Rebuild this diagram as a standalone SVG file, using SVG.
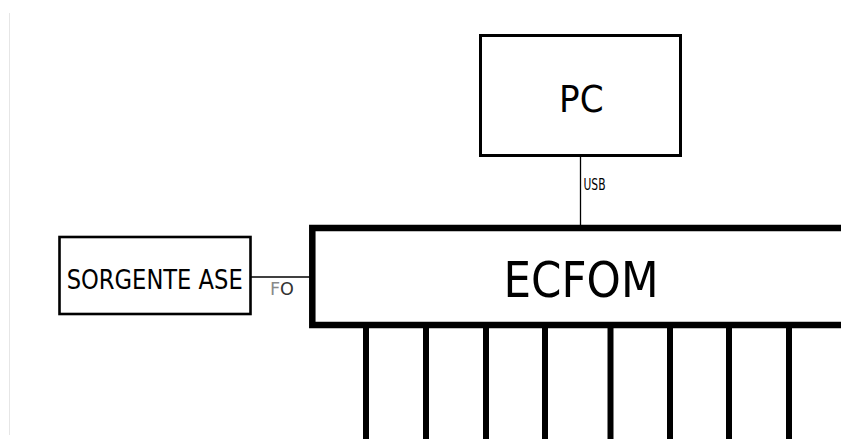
<svg xmlns="http://www.w3.org/2000/svg" width="841" height="439" viewBox="0 0 841 439">
<style>
.box{fill:#fff;stroke:#000}
.lbl{font-family:"DejaVu Sans Condensed","DejaVu Sans",sans-serif;fill:#000}
.wire{stroke:#000;stroke-width:1.3;fill:none}
.bus{stroke:#000;stroke-width:6;fill:none}
</style>
<rect width="841" height="439" fill="#fff"/>
<line x1="9.5" y1="13" x2="9.5" y2="435" stroke="#e6e6e6" stroke-width="1"/>
<g id="connectors">
<line class="wire" x1="580.5" y1="156" x2="580.5" y2="228"/>
<line class="wire" x1="251" y1="277" x2="312" y2="277"/>
<g>
<line class="bus" x1="366" y1="325" x2="366" y2="439"/>
<line class="bus" x1="426" y1="325" x2="426" y2="439"/>
<line class="bus" x1="486" y1="325" x2="486" y2="439"/>
<line class="bus" x1="545" y1="325" x2="545" y2="439"/>
<line class="bus" x1="610.5" y1="325" x2="610.5" y2="439"/>
<line class="bus" x1="670" y1="325" x2="670" y2="439"/>
<line class="bus" x1="729" y1="325" x2="729" y2="439"/>
<line class="bus" x1="789" y1="325" x2="789" y2="439"/>
</g>
<text class="lbl" x="583.5" y="190.3" font-size="16.5" textLength="22" lengthAdjust="spacingAndGlyphs">USB</text>
<text class="lbl" x="270" y="294.5" font-size="17" textLength="24" lengthAdjust="spacingAndGlyphs"><tspan style="fill:#8a8a8a">F</tspan><tspan style="fill:#333">O</tspan></text>
</g>
<g id="pc">
<rect class="box" x="480.5" y="35.5" width="200" height="120" stroke-width="3"/>
<text class="lbl" x="581.3" y="111.5" font-size="38" text-anchor="middle">PC</text>
</g>
<g id="sorgente">
<rect class="box" x="59.5" y="237" width="191" height="77" stroke-width="2.6"/>
<text class="lbl" x="66.7" y="289.3" font-size="26" textLength="176" lengthAdjust="spacingAndGlyphs">SORGENTE ASE</text>
</g>
<g id="ecfom">
<rect class="box" x="312.3" y="228" width="600" height="97" stroke-width="6.5"/>
<text class="lbl" x="503.5" y="296.8" font-size="50" textLength="155" lengthAdjust="spacingAndGlyphs">ECFOM</text>
</g>
</svg>
